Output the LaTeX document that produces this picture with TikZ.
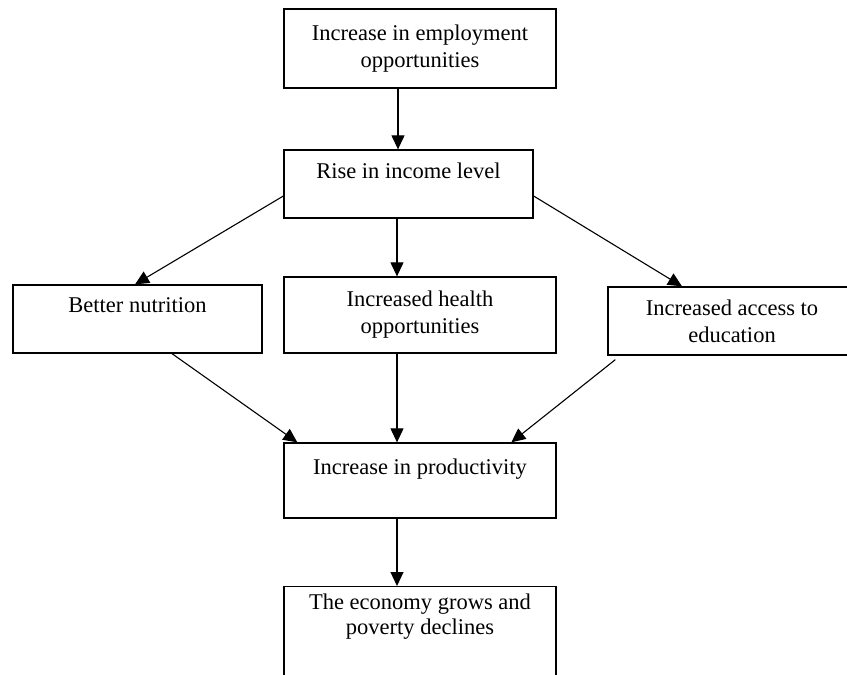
\documentclass[tikz,border=0pt]{standalone}
\usepackage{fontspec}
\setmainfont{Liberation Serif}
\usetikzlibrary{arrows.meta}
\begin{document}
\begin{tikzpicture}[x=1pt,y=-1pt,
  box/.style={draw, line width=1.3pt, rectangle, inner sep=0pt, align=center,
    font=\fontsize{22.5}{27}\selectfont},
  arr/.style={line width=1.1pt, -{Triangle[length=14pt,width=13pt]}}]
\useasboundingbox (0,0) rectangle (847,675);
\clip (0,0) rectangle (847,675);
\node[box, minimum width=272pt, minimum height=79pt] (top) at (420,48.5) {Increase in employment\\opportunities};
\node[box, minimum width=249pt, minimum height=68pt] (rise) at (408.5,184) {Rise in income level\\\mbox{}};
\node[box, minimum width=249pt, minimum height=68pt] (nutr) at (137.5,319) {Better nutrition\\\mbox{}};
\node[box, minimum width=272pt, minimum height=76pt] (health) at (420,315) {Increased health\\opportunities};
\node[box, minimum width=248pt, minimum height=68pt] (edu) at (732,321) {Increased access to\\education};
\node[box, minimum width=272pt, minimum height=75pt] (prod) at (420,480.5) {Increase in productivity\\\mbox{}};
\node[box, minimum width=272pt, minimum height=130pt, anchor=north] (econ) at (420,586) {};
\node[align=center, anchor=north, inner sep=0pt, font=\fontsize{22.5}{25}\selectfont] (econt) at ([yshift=-8pt]econ.north) {The economy grows and\\poverty declines};
\draw[arr] ([xshift=-22pt]top.south) -- ([xshift=-22pt]top.south |- rise.north);
\draw[arr] ([yshift=-12pt]rise.west) -- ([xshift=-2.5pt]nutr.north);
\draw[arr] ([yshift=-12pt]rise.east) -- ([xshift=-50pt]edu.north);
\draw[arr] ([xshift=-11.5pt]rise.south) -- ([xshift=-11.5pt]rise.south |- health.north);
\draw[arr] ([xshift=34.5pt]nutr.south) -- ([xshift=14pt]prod.north west);
\draw[arr] ([xshift=-23pt]health.south) -- ([xshift=-23pt]health.south |- prod.north);
\draw[arr] ([xshift=8pt,yshift=-4pt]edu.south west) -- ([xshift=228pt]prod.north west);
\draw[arr] ([xshift=-23pt]prod.south) -- ([xshift=-23pt]prod.south |- econ.north);
\end{tikzpicture}
\end{document}
